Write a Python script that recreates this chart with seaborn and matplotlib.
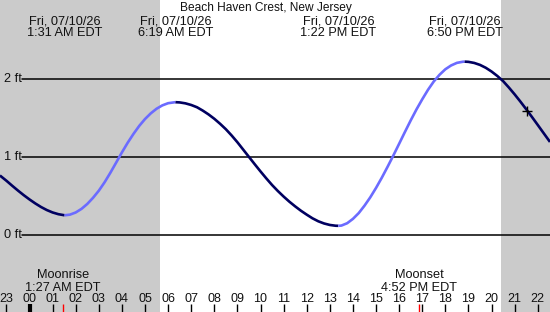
import numpy as np
import pandas as pd
import matplotlib
matplotlib.use("Agg")
import matplotlib.pyplot as plt
import seaborn as sns
from matplotlib.transforms import blended_transform_factory

# ---------------- data ----------------
station = "Beach Haven Crest, New Jersey"

# tide heights (ft), hours from midnight 07/10/26
times = [-1.28, -1.0, -0.75, -0.5, -0.25, 0.0, 0.25, 0.5, 0.75, 1.0, 1.25, 1.517,
         1.75, 2.0, 2.25, 2.5, 2.75, 3.0, 3.25, 3.5, 3.75, 4.0, 4.25, 4.5, 4.75,
         5.0, 5.25, 5.5, 5.75, 6.0, 6.317,
         6.5, 6.75, 7.0, 7.25, 7.5, 7.75, 8.0, 8.25, 8.5, 8.75, 9.0, 9.25, 9.5,
         9.75, 10.0, 10.25, 10.5, 10.75, 11.0, 11.25, 11.5, 11.75, 12.0, 12.25,
         12.5, 12.75, 13.0, 13.25, 13.367,
         13.5, 13.75, 14.0, 14.25, 14.5, 14.75, 15.0, 15.25, 15.5, 15.75, 16.0,
         16.25, 16.5, 16.75, 17.0, 17.25, 17.5, 17.75, 18.0, 18.25, 18.5, 18.75,
         18.833,
         19.0, 19.25, 19.5, 19.75, 20.0, 20.25, 20.5, 20.75, 21.0, 21.25, 21.5,
         21.75, 22.0, 22.25, 22.53]
heights = [0.76, 0.693, 0.629, 0.567, 0.508, 0.453, 0.402, 0.356, 0.317, 0.286, 0.264, 0.25,
           0.258, 0.286, 0.332, 0.395, 0.474, 0.565, 0.673, 0.795, 0.925, 1.056, 1.180, 1.293, 1.396,
           1.484, 1.557, 1.616, 1.659, 1.687, 1.70,
           1.697, 1.685, 1.664, 1.635, 1.592, 1.543, 1.487, 1.423, 1.353, 1.273, 1.186, 1.092, 0.998,
           0.904, 0.812, 0.723, 0.638, 0.561, 0.490, 0.424, 0.364, 0.308, 0.258, 0.211,
           0.173, 0.145, 0.126, 0.116, 0.115,
           0.118, 0.148, 0.204, 0.278, 0.373, 0.480, 0.601, 0.732, 0.872, 1.017, 1.167,
           1.318, 1.466, 1.607, 1.737, 1.859, 1.966, 2.052, 2.122, 2.171, 2.204, 2.218,
           2.22,
           2.217, 2.203, 2.178, 2.141, 2.093, 2.036, 1.970, 1.888, 1.800, 1.707, 1.610,
           1.510, 1.408, 1.305, 1.19]

# high / low tide events
extreme_times = [1.517, 6.317, 13.367, 18.833]
extreme_dates = ["Fri, 07/10/26"] * 4
extreme_labels = ["1:31 AM EDT", "6:19 AM EDT", "1:22 PM EDT", "6:50 PM EDT"]

# moon events
moon_times = [1.45, 16.867]
moon_names = ["Moonrise", "Moonset"]
moon_labels = ["1:27 AM EDT", "4:52 PM EDT"]

# sun (night shading)
sunrise = 5.65
sunset = 20.41

# hour axis
hours = list(range(-1, 23))
hour_labels = ["23"] + [f"{h:02d}" for h in range(0, 23)]

levels = [0, 1, 2]
level_labels = ["0 ft", "1 ft", "2 ft"]

now_time = 21.54
now_height = 1.59

# ---------------- style ----------------
sns.set_style("white")
plt.rcParams["font.family"] = ["Liberation Sans", "DejaVu Sans"]

RISE = "#6b6bff"
FALL = "#000060"
NIGHT = "#cbcbcb"
TXT = "#111111"

W, H = 550, 312
fig = plt.figure(figsize=(W / 100, H / 100), dpi=100)
ax = fig.add_axes([0, 0, 1, 1])
xmin, xmax = -1.277, 22.53
ax.set_xlim(xmin, xmax)
ax.set_ylim(-0.99, 3.01)
ax.set_axis_off()
ax.set_facecolor("white")

# night shading
ax.axvspan(xmin, sunrise, color=NIGHT, lw=0, zorder=0)
ax.axvspan(sunset, xmax, color=NIGHT, lw=0, zorder=0)

# level lines
yt = blended_transform_factory(ax.transAxes, ax.transData)
for lv, lab in zip(levels, level_labels):
    ax.axhline(lv, xmin=22 / W, xmax=1, color="black", lw=1.1, zorder=1)
    ax.text(4 / W, lv, lab, transform=yt, ha="left", va="center",
            fontsize=9.2, color=TXT)

# tide curve, split at extremes
df = pd.DataFrame({"t": times, "h": heights})
bounds = [times[0]] + extreme_times + [times[-1]]
for a, b in zip(bounds[:-1], bounds[1:]):
    seg = df[(df.t >= a - 1e-9) & (df.t <= b + 1e-9)]
    col = RISE if seg.h.iloc[-1] > seg.h.iloc[0] else FALL
    sns.lineplot(data=seg, x="t", y="h", ax=ax, color=col, lw=1.9,
                 estimator=None, sort=False, zorder=3,
                 solid_joinstyle="round", solid_capstyle="butt")

# current time marker
ax.plot([now_time], [now_height], marker="+", ms=7, mew=1.0, color="black",
        zorder=4)

# title and extreme labels
ax.text(266 / W, 1 - 11 / H, station, transform=ax.transAxes, ha="center",
        va="baseline", fontsize=8.6, color=TXT)
xt = blended_transform_factory(ax.transData, ax.transAxes)
for t, d, lab in zip(extreme_times, extreme_dates, extreme_labels):
    ax.text(t, 1 - 24 / H, d, transform=xt, ha="center", va="baseline",
            fontsize=9.2, color=TXT)
    ax.text(t, 1 - 36 / H, lab, transform=xt, ha="center", va="baseline",
            fontsize=9.2, color=TXT)

# moon labels
for t, n, lab in zip(moon_times, moon_names, moon_labels):
    ax.text(t, 1 - 278.5 / H, n, transform=xt, ha="center", va="baseline",
            fontsize=9.2, color=TXT)
    ax.text(t, 1 - 290.7 / H, lab, transform=xt, ha="center", va="baseline",
            fontsize=9.2, color=TXT)

# hour ticks & labels
for h, lab in zip(hours, hour_labels):
    ax.text(h, 1 - 301.7 / H, lab, transform=xt, ha="center", va="baseline",
            fontsize=9.0, color=TXT)
    ax.vlines(h, 0, 8 / H, transform=xt, color="black",
              lw=3 if h == 0 else 1, zorder=2)
ax.vlines(moon_times, 0, 8 / H, transform=xt, color="red", lw=1, zorder=2)

fig.savefig("out.png", dpi=100)
